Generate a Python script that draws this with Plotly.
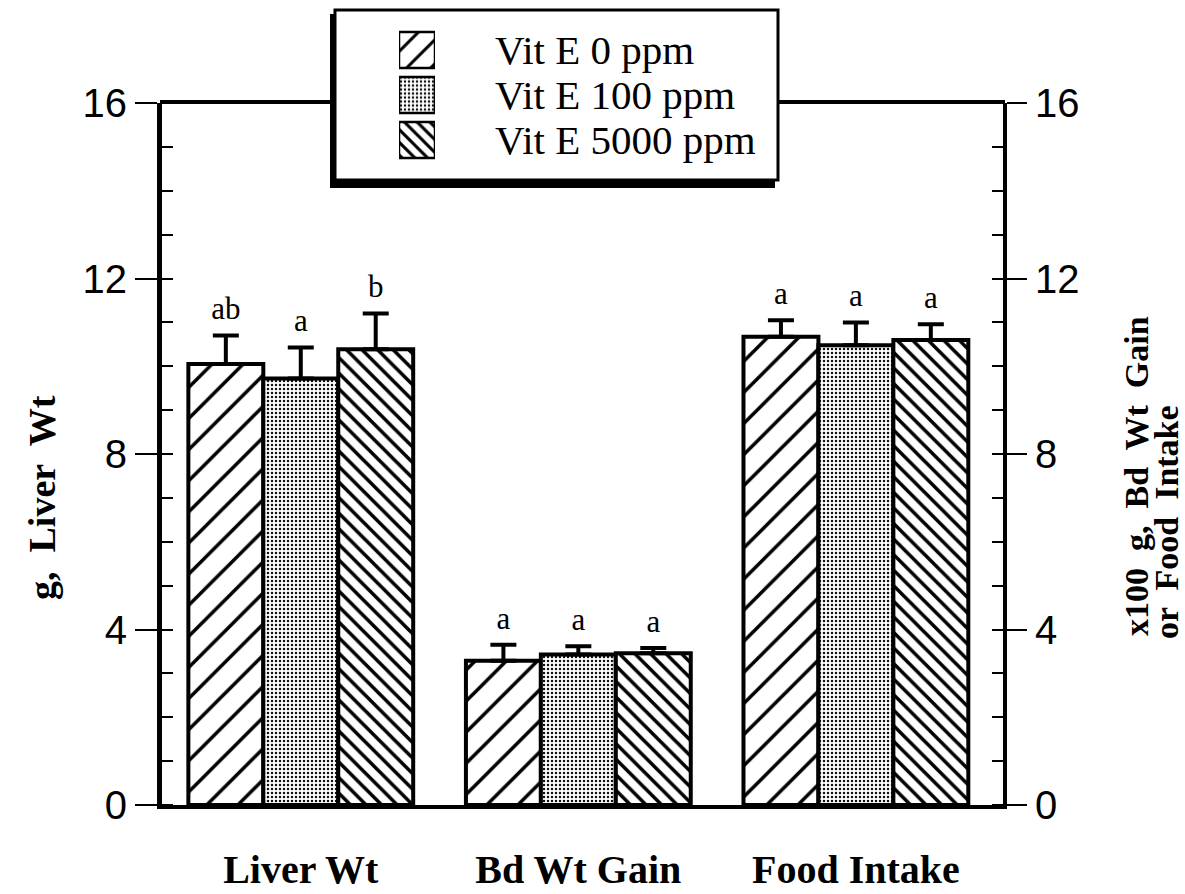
import plotly.graph_objects as go

# ---------------- data ----------------
categories = ["Liver Wt", "Bd Wt Gain", "Food Intake"]
series_names = ["Vit E 0 ppm", "Vit E 100 ppm", "Vit E 5000 ppm"]

vit0 = [10.05, 3.29, 10.67]
vit0_err = [0.65, 0.36, 0.38]
vit100 = [9.72, 3.43, 10.48]
vit100_err = [0.71, 0.19, 0.52]
vit5000 = [10.39, 3.46, 10.60]
vit5000_err = [0.81, 0.12, 0.36]

letters0 = ["ab", "a", "a"]
letters100 = ["a", "a", "a"]
letters5000 = ["b", "a", "a"]

left_ticks = [0, 4, 8, 12, 16]
right_ticks = [0, 4, 8, 12, 16]

# ---------------- layout helpers ----------------
FIG_W, FIG_H = 1185, 894
L, R = 162, 1003          # plot area left/right (px)
B = 805                   # plot area bottom (px), top margin 0
PW = R - L
PH = B                    # plot area height (t=0)
Y_TOP = 103               # px where y=16


def px_x(p):
    return (p - L) / PW


def px_y(p):
    return (B - p) / PH


BAR_W = 0.27
SERIF = "Liberation Serif, Times New Roman, serif"
SANS = "Liberation Sans, Arial, Helvetica, sans-serif"

vals = [vit0, vit100, vit5000]
errs = [vit0_err, vit100_err, vit5000_err]
lets = [letters0, letters100, letters5000]
patterns = [
    dict(shape="/", size=22, solidity=0.16, fgcolor="black", bgcolor="white", fgopacity=1),
    dict(shape=".", size=4, solidity=0.3, fgcolor="#111", bgcolor="white", fgopacity=1),
    dict(shape="\\", size=11, solidity=0.32, fgcolor="black", bgcolor="white", fgopacity=1),
]
swatch_patterns = [
    dict(shape="/", size=17, solidity=0.18, fgcolor="black", bgcolor="white", fgopacity=1),
    dict(shape=".", size=4, solidity=0.3, fgcolor="#111", bgcolor="white", fgopacity=1),
    dict(shape="\\", size=9, solidity=0.34, fgcolor="black", bgcolor="white", fgopacity=1),
]

fig = go.Figure()

for i in range(3):
    xpos = [g + (i - 1) * BAR_W for g in range(len(categories))]
    fig.add_trace(go.Bar(
        x=xpos, y=vals[i], width=BAR_W, name=series_names[i],
        marker=dict(color="white", pattern=patterns[i],
                    line=dict(color="black", width=4)),
        error_y=dict(type="data", symmetric=False, array=errs[i],
                     arrayminus=[0] * len(errs[i]), color="black",
                     thickness=4, width=13),
        showlegend=False, xaxis="x", yaxis="y",
    ))

for i in range(3):
    xpos = [g + (i - 1) * BAR_W for g in range(len(categories))]
    tops = [v + e for v, e in zip(vals[i], errs[i])]
    fig.add_trace(go.Scatter(
        x=xpos, y=tops, mode="markers+text", text=lets[i],
        marker=dict(size=12, opacity=0),
        textposition="top center",
        textfont=dict(family=SERIF, size=31, color="black"),
        showlegend=False, hoverinfo="skip", xaxis="x", yaxis="y",
    ))

# invisible trace so the right axis renders
fig.add_trace(go.Scatter(x=[0], y=[0], mode="markers", marker=dict(opacity=0),
                         showlegend=False, hoverinfo="skip", xaxis="x", yaxis="y2"))

# legend swatches (drawn as small bars in an inset axis)
for i in range(3):
    fig.add_trace(go.Bar(
        y=[i], x=[1], orientation="h", width=0.8,
        marker=dict(color="white", pattern=swatch_patterns[i],
                    line=dict(color="black", width=2.5)),
        showlegend=False, hoverinfo="skip", xaxis="x3", yaxis="y3",
    ))

main_dom = [0, px_y(Y_TOP)]

tick_font = dict(family=SANS, size=40, color="black")

fig.update_layout(
    width=FIG_W, height=FIG_H,
    margin=dict(l=L, r=FIG_W - R, t=0, b=FIG_H - B, autoexpand=False),
    paper_bgcolor="white", plot_bgcolor="white",
    showlegend=False,
    xaxis=dict(
        domain=[0, 1], range=[-0.5, 2.53], automargin=False,
        tickmode="array", tickvals=list(range(len(categories))), ticktext=categories,
        ticks="", showgrid=False, zeroline=False,
        showline=True, linecolor="black", linewidth=4,
        tickfont=dict(family=SERIF, size=40, color="black", weight="bold"),
        ticklabelstandoff=26,
    ),
    yaxis=dict(
        domain=main_dom, range=[0, 16], automargin=False,
        tickmode="array", tickvals=left_ticks, ticktext=[str(t) for t in left_ticks],
        ticks="outside", ticklen=22, tickwidth=2, tickcolor="black",
        minor=dict(dtick=1, tick0=0, ticks="inside", ticklen=11, tickwidth=2,
                   tickcolor="black", showgrid=False),
        showgrid=False, zeroline=False,
        showline=True, linecolor="black", linewidth=5,
        tickfont=tick_font,
    ),
    yaxis2=dict(
        overlaying="y", side="right", range=[0, 16], automargin=False,
        tickmode="array", tickvals=right_ticks, ticktext=[str(t) for t in right_ticks],
        ticks="outside", ticklen=20, tickwidth=2, tickcolor="black",
        minor=dict(dtick=1, tick0=0, ticks="inside", ticklen=11, tickwidth=2,
                   tickcolor="black", showgrid=False),
        showgrid=False, zeroline=False,
        showline=True, linecolor="black", linewidth=4,
        tickfont=tick_font,
    ),
    xaxis3=dict(domain=[px_x(399), px_x(435)], range=[0, 1], visible=False,
                anchor="y3", fixedrange=True, automargin=False),
    yaxis3=dict(domain=[px_y(162.5), px_y(27.5)], range=[2.5, -0.5], visible=False,
                anchor="x3", fixedrange=True, automargin=False),
)

shapes = []
# legend shadow + box
shapes.append(dict(type="rect", xref="paper", yref="paper", layer="below",
                   x0=px_x(330), x1=px_x(775), y0=px_y(188), y1=px_y(14),
                   fillcolor="black", line=dict(width=0)))
shapes.append(dict(type="rect", xref="paper", yref="paper", layer="below",
                   x0=px_x(335), x1=px_x(778), y0=px_y(180), y1=px_y(10),
                   fillcolor="white", line=dict(color="black", width=3)))
# top frame line (interrupted by legend box)
for a, b in [(L - 2, 335), (778, R + 2)]:
    shapes.append(dict(type="line", xref="paper", yref="paper", layer="above",
                       x0=px_x(a), x1=px_x(b), y0=px_y(Y_TOP - 1), y1=px_y(Y_TOP - 1),
                       line=dict(color="black", width=4)))
fig.update_layout(shapes=shapes)

annotations = []
for i, name in enumerate(series_names):
    annotations.append(dict(text=name, xref="paper", yref="paper",
                            x=px_x(493), y=px_y(50 + 45 * i), xanchor="left", yanchor="middle",
                            showarrow=False,
                            font=dict(family=SERIF, size=41, color="black")))
annotations.append(dict(text="g,  Liver  Wt", xref="paper", yref="paper",
                        x=px_x(42), y=px_y(498), textangle=-90, showarrow=False,
                        xanchor="center", yanchor="middle",
                        font=dict(family=SERIF, size=38, color="black", weight="bold")))
annotations.append(dict(text="x100  g,  Bd  Wt  Gain", xref="paper", yref="paper",
                        x=px_x(1137), y=px_y(476), textangle=-90, showarrow=False,
                        xanchor="center", yanchor="middle",
                        font=dict(family=SERIF, size=34, color="black", weight="bold")))
annotations.append(dict(text="or  Food  Intake", xref="paper", yref="paper",
                        x=px_x(1166), y=px_y(522), textangle=-90, showarrow=False,
                        xanchor="center", yanchor="middle",
                        font=dict(family=SERIF, size=34, color="black", weight="bold")))
fig.update_layout(annotations=annotations)

fig.write_html("out.html")
